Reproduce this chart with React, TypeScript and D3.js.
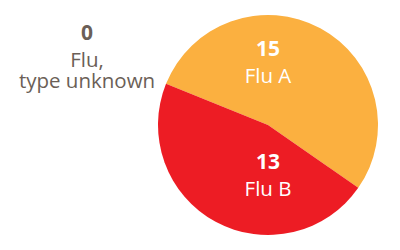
import React from "react";
import * as d3 from "d3";

const categories = ["Flu A", "Flu B"];
const values = [15, 13];
const colors = ["#FBB040", "#ED1C24"];
const unknownLabel = ["Flu,", "type unknown"];
const unknownValue = 0;

const W = 400;
const H = 250;
const cx = 268;
const cy = 125;
const R = 110;

export default function App() {
  const start = (-68 * Math.PI) / 180;
  const pie = d3
    .pie<number>()
    .sort(null)
    .value((d) => d)
    .startAngle(start)
    .endAngle(start + 2 * Math.PI);
  const arcs = pie(values);
  const arc = d3.arc<d3.PieArcDatum<number>>().innerRadius(0).outerRadius(R);
  const labelArc = d3.arc<d3.PieArcDatum<number>>().innerRadius(0).outerRadius(128);
  const font = "'Open Sans', sans-serif";
  return (
    <svg width={W} height={H} style={{ position: "absolute", left: 0, top: 0 }}>
      <rect width={W} height={H} fill="#fff" />
      <g transform={`translate(${cx},${cy})`}>
        {arcs.map((a, i) => (
          <path key={i} d={arc(a) || ""} fill={colors[i]} />
        ))}
        {arcs.map((a, i) => {
          const [, y] = labelArc.centroid(a);
          return (
            <text key={"l" + i} y={y} fill="#fff" fontFamily={font} textAnchor="middle">
              <tspan x={0} dy={-12.5} fontSize={21} fontWeight={700}>{a.data}</tspan>
              <tspan x={0} dy={27} fontSize={20.5}>{categories[i]}</tspan>
            </text>
          );
        })}
      </g>
      <text fill="#6b5f57" fontFamily={font} textAnchor="middle" y={40}>
        <tspan x={87} fontSize={21} fontWeight={700}>{unknownValue}</tspan>
        <tspan x={87} dy={26.5} fontSize={20.5}>{unknownLabel[0]}</tspan>
        <tspan x={87} dy={21} fontSize={20.5}>{unknownLabel[1]}</tspan>
      </text>
    </svg>
  );
}
